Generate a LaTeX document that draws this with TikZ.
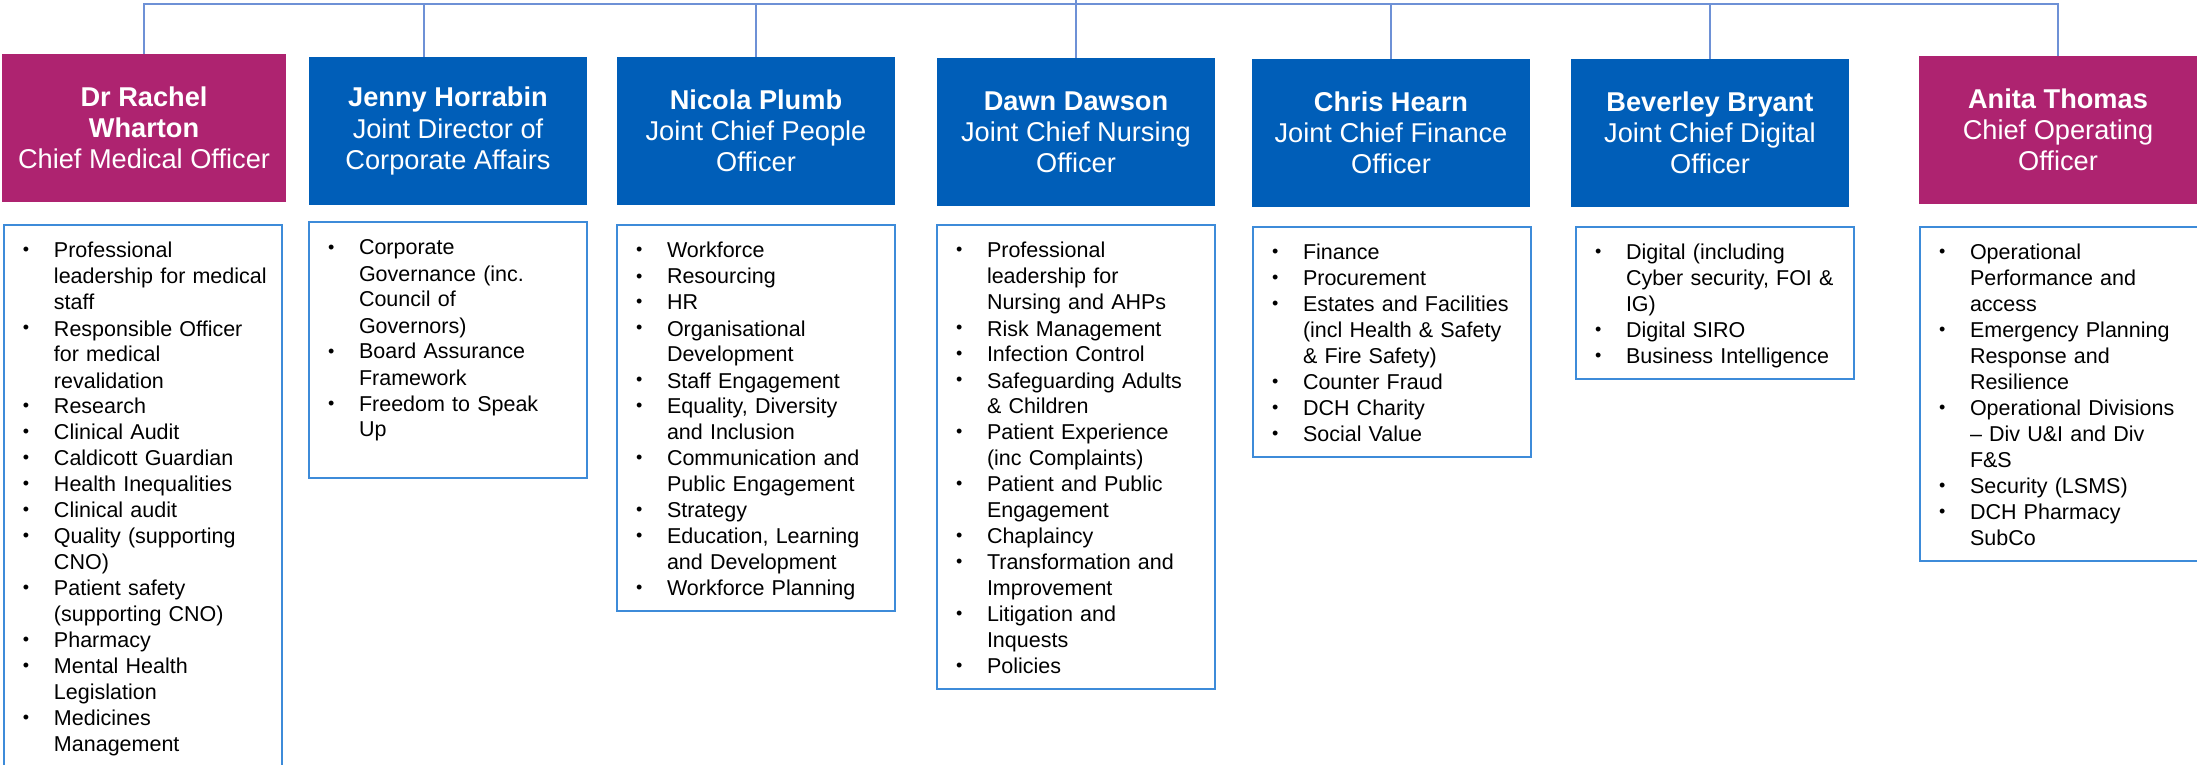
\documentclass[tikz,border=0pt]{standalone}
\usepackage{fontspec}
\setmainfont{Liberation Sans}
\usetikzlibrary{calc}

\definecolor{medpink}{HTML}{AE2370}
\definecolor{nhsblue}{HTML}{005EB8}
\definecolor{boxline}{HTML}{3D8BD9}
\definecolor{linkline}{HTML}{6E91D6}

% one bulleted item, later lines hang under the text
\newcommand{\bul}{\par\noindent\hangindent=20.5pt\hbox to 20.5pt{\hskip5pt\strut\raisebox{1pt}{\fontsize{9}{9}\selectfont\textbullet}\hss}}
\newcommand{\nl}{\newline}
\newcommand{\closebul}{\strut\par}

\begin{document}
\begin{tikzpicture}[x=0.5pt,y=-0.5pt,
    head/.style={fill=#1,text=white,minimum width=139pt,minimum height=74pt,inner sep=2pt,
      align=center,font=\fontsize{13.6}{15.6}\selectfont},
    duty/.style={draw=boxline,line width=1pt,anchor=north west,text width=130pt,
      inner xsep=4.5pt,inner ysep=3.5pt,align=left,font=\fontsize{10.75}{13}\selectfont},
    link/.style={draw=linkline,line width=1pt}]
  \useasboundingbox (0,0) rectangle (2197,765);
  %\draw[very thin,lightgray] (0,0) grid[step=100] (2197,765);

  % directors
  \node[head=medpink,minimum width=142pt] (rachel) at (144,128)
    {\textbf{Dr Rachel}\\\textbf{Wharton}\\Chief Medical Officer};
  \node[head=nhsblue] (jenny) at (448,131)
    {\textbf{Jenny Horrabin}\\Joint Director of\\Corporate Affairs};
  \node[head=nhsblue] (nicola) at (756,131)
    {\textbf{Nicola Plumb}\\Joint Chief People\\Officer};
  \node[head=nhsblue] (dawn) at (1076,132)
    {\textbf{Dawn Dawson}\\Joint Chief Nursing\\Officer};
  \node[head=nhsblue] (chris) at (1391,133)
    {\textbf{Chris Hearn}\\Joint Chief Finance\\Officer};
  \node[head=nhsblue] (beverley) at (1710,133)
    {\textbf{Beverley Bryant}\\Joint Chief Digital\\Officer};
  \node[head=medpink] (anita) at (2058,130)
    {\textbf{Anita Thomas}\\Chief Operating\\Officer};

  % portfolios
  \node[duty] (rachellist) at (3,224) {%
    \bul Professional\nl leadership for medical\nl staff
    \bul Responsible Officer\nl for medical\nl revalidation
    \bul Research
    \bul Clinical Audit
    \bul Caldicott Guardian
    \bul Health Inequalities
    \bul Clinical audit
    \bul Quality (supporting\nl CNO)
    \bul Patient safety\nl (supporting CNO)
    \bul Pharmacy
    \bul Mental Health\nl Legislation
    \bul Medicines\nl Management\closebul
    \strut\par};
  \node[duty] (jennylist) at (308,221) {%
    \bul Corporate\nl Governance (inc.\nl Council of\nl Governors)
    \bul Board Assurance\nl Framework
    \bul Freedom to Speak\nl Up\closebul
    \strut\par};
  \node[duty] (nicolalist) at (616,224) {%
    \bul Workforce
    \bul Resourcing
    \bul HR
    \bul Organisational\nl Development
    \bul Staff Engagement
    \bul Equality, Diversity\nl and Inclusion
    \bul Communication and\nl Public Engagement
    \bul Strategy
    \bul Education, Learning\nl and Development
    \bul Workforce Planning\closebul};
  \node[duty] (dawnlist) at (936,224) {%
    \bul Professional\nl leadership for\nl Nursing and AHPs
    \bul Risk Management
    \bul Infection Control
    \bul Safeguarding Adults\nl \& Children
    \bul Patient Experience\nl (inc Complaints)
    \bul Patient and Public\nl Engagement
    \bul Chaplaincy
    \bul Transformation and\nl Improvement
    \bul Litigation and\nl Inquests
    \bul Policies\closebul};
  \node[duty] (chrislist) at (1252,226) {%
    \bul Finance
    \bul Procurement
    \bul Estates and Facilities\nl (incl Health \& Safety\nl \& Fire Safety)
    \bul Counter Fraud
    \bul DCH Charity
    \bul Social Value\closebul};
  \node[duty] (beverleylist) at (1575,226) {%
    \bul Digital (including\nl Cyber security, FOI \&\nl IG)
    \bul Digital SIRO
    \bul Business Intelligence\closebul};
  \node[duty] (anitalist) at (1919,226) {%
    \bul Operational\nl Performance and\nl access
    \bul Emergency Planning\nl Response and\nl Resilience
    \bul Operational Divisions\nl – Div U\&I and Div\nl F\&S
    \bul Security (LSMS)
    \bul DCH Pharmacy\nl SubCo\closebul};

  % reporting lines
  \coordinate (hub) at (1076,4);
  \coordinate (up) at (1076,-10);
  \draw[link] (up) -- (hub);
  \draw[link] (hub) -| (rachel.north);
  \draw[link] (hub) -| ($(jenny.north)+(-24,0)$);
  \draw[link] (hub) -| (nicola.north);
  \draw[link] (hub) -- (dawn.north);
  \draw[link] (hub) -| (chris.north);
  \draw[link] (hub) -| (beverley.north);
  \draw[link] (hub) -| (anita.north);
\end{tikzpicture}
\end{document}
